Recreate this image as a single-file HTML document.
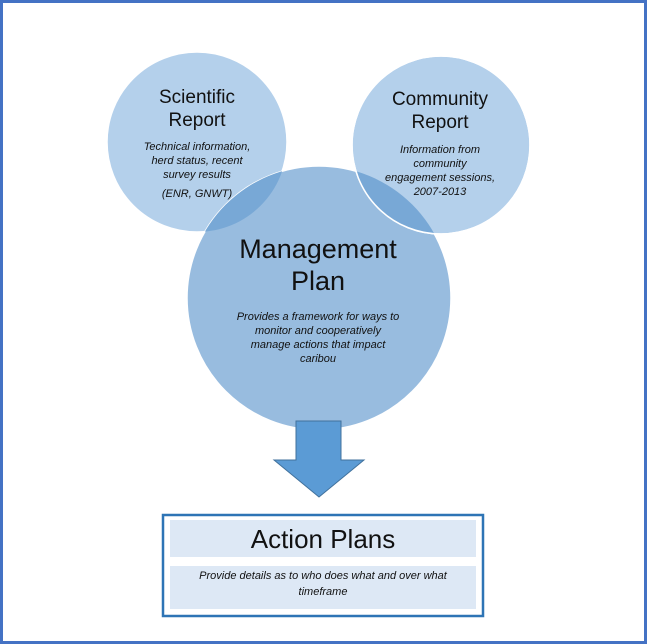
<!DOCTYPE html>
<html><head><style>
body{margin:0;background:#fff}
svg{display:block;font-family:"Liberation Sans",Calibri,sans-serif}
</style></head><body>
<svg width="647" height="644" viewBox="0 0 647 644">
<defs>
<clipPath id="cs"><circle cx="197" cy="142" r="90"/></clipPath>
<clipPath id="cc"><circle cx="441" cy="145" r="89"/></clipPath>
</defs>
<rect x="1.5" y="1.5" width="644" height="641" fill="#fff" stroke="#4472c4" stroke-width="3"/>
<circle cx="197" cy="142" r="90" fill="#b4d0eb" stroke="#fff" stroke-width="1.5"/>
<circle cx="319" cy="298" r="132" fill="#98bcdf" stroke="#fff" stroke-width="1.5"/>
<circle cx="441" cy="145" r="89" fill="#b4d0eb" stroke="#fff" stroke-width="1.5"/>
<circle cx="319" cy="298" r="132" fill="#78a8d6" clip-path="url(#cs)"/>
<circle cx="319" cy="298" r="132" fill="#78a8d6" clip-path="url(#cc)"/>
<circle cx="441" cy="145" r="89" fill="none" stroke="#fff" stroke-width="1.5"/>
<g text-anchor="middle" fill="#111">
<text x="197" y="103" font-size="19">Scientific</text>
<text x="197" y="126" font-size="19">Report</text>
<g font-size="11" font-style="italic">
<text x="197" y="150">Technical information,</text>
<text x="197" y="164">herd status, recent</text>
<text x="197" y="178">survey results</text>
<text x="197" y="197">(ENR, GNWT)</text>
</g>
<text x="440" y="105" font-size="19">Community</text>
<text x="440" y="128" font-size="19">Report</text>
<g font-size="11" font-style="italic">
<text x="440" y="153">Information from</text>
<text x="440" y="167">community</text>
<text x="440" y="181">engagement sessions,</text>
<text x="440" y="195">2007-2013</text>
</g>
<text x="318" y="258" font-size="27">Management</text>
<text x="318" y="290" font-size="27">Plan</text>
<g font-size="11" font-style="italic">
<text x="318" y="320">Provides a framework for ways to</text>
<text x="318" y="334">monitor and cooperatively</text>
<text x="318" y="348">manage actions that impact</text>
<text x="318" y="362">caribou</text>
</g>
</g>
<polygon points="296,421 341,421 341,460 364,460 319,497 274,460 296,460" fill="#5b9bd5" stroke="#41719c" stroke-width="1"/>
<rect x="163" y="515" width="320" height="101" fill="#fff" stroke="#2e74b5" stroke-width="2.5"/>
<rect x="170" y="520" width="306" height="37" fill="#dde8f5"/>
<rect x="170" y="566" width="306" height="43" fill="#dde8f5"/>
<text x="323" y="548" font-size="26" text-anchor="middle" fill="#111">Action Plans</text>
<g font-size="11" font-style="italic" text-anchor="middle" fill="#111">
<text x="323" y="579">Provide details as to who does what and over what</text>
<text x="323" y="595">timeframe</text>
</g>
</svg>
</body></html>
